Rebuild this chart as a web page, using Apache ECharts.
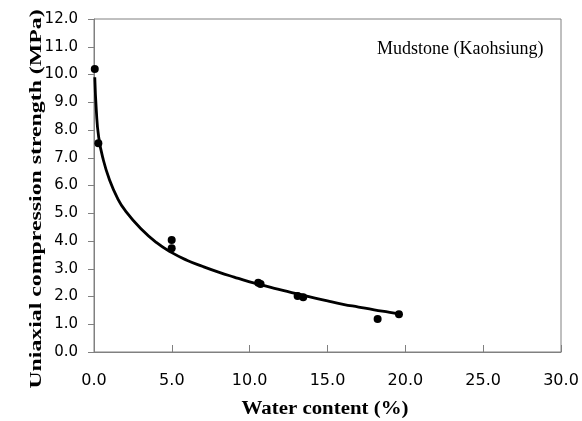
<!DOCTYPE html>
<html>
<head>
<meta charset="utf-8">
<script src="https://cdn.jsdelivr.net/npm/echarts@6/dist/echarts.min.js"></script>
<style>html,body{margin:0;padding:0;background:#fff;}#c{width:582px;height:421px;}</style>
</head>
<body>
<div id="c"></div>
<script>
// Measured data points (water content %, UCS MPa)
const pointX = [0.05, 0.28, 4.99, 4.99, 10.55, 10.7, 13.08, 13.44, 18.22, 19.59];
const pointY = [10.2, 7.52, 4.04, 3.74, 2.50, 2.45, 2.02, 1.97, 1.19, 1.36];
// Trend curve
const curveX = [0.05, 0.15, 0.3, 0.6, 1.0, 1.5, 2.0, 3.0, 4.0, 5.0, 6.0, 7.0, 8.0, 9.0, 10.0, 11.0, 12.0, 13.0, 14.0, 15.0, 16.0, 17.0, 18.0, 19.0, 19.6];
const curveY = [9.9, 8.7, 7.75, 6.92, 6.2, 5.55, 5.1, 4.45, 3.95, 3.58, 3.3, 3.08, 2.88, 2.7, 2.53, 2.38, 2.24, 2.1, 1.97, 1.84, 1.72, 1.62, 1.52, 1.43, 1.37];
const xTicks = [0, 30, 5];
const yTicks = [0, 12, 1];
const xTitle = 'Water content (%)';
const yTitle = 'Uniaxial compression strength (MPa)';
const note = 'Mudstone (Kaohsiung)';

const chart = echarts.init(document.getElementById('c'), null, {renderer: 'canvas'});
const axisGrey = '#808080';
chart.setOption({
  animation: false,
  backgroundColor: '#fff',
  grid: {left: 94, right: 21, top: 19, bottom: 69, show: true, borderColor: axisGrey, borderWidth: 1, backgroundColor: 'transparent'},
  xAxis: {
    type: 'value', min: xTicks[0], max: xTicks[1], interval: xTicks[2],
    axisLine: {show: true, lineStyle: {color: axisGrey, width: 1}},
    axisTick: {show: true, inside: true, length: 7, lineStyle: {color: axisGrey}},
    splitLine: {show: false},
    axisLabel: {margin: 21, color: '#000', fontFamily: 'DejaVu Sans', fontSize: 16, formatter: v => v.toFixed(1)}
  },
  yAxis: {
    type: 'value', min: yTicks[0], max: yTicks[1], interval: yTicks[2],
    axisLine: {show: true, lineStyle: {color: axisGrey, width: 1}},
    axisTick: {show: true, inside: false, length: 6, lineStyle: {color: axisGrey}},
    splitLine: {show: false},
    axisLabel: {margin: 16, color: '#000', fontFamily: 'DejaVu Sans', fontSize: 15, formatter: v => v.toFixed(1)}
  },
  graphic: [
    {type: 'text', x: 325, y: 409, scaleX: 1.16, z: 10,
      style: {text: xTitle, font: 'bold 18px "Liberation Serif"', fill: '#000', textAlign: 'center', textVerticalAlign: 'middle'}},
    {type: 'text', x: 37, y: 199, rotation: Math.PI / 2, scaleX: 1.4, z: 10,
      style: {text: yTitle, font: 'bold 17px "Liberation Serif"', fill: '#000', textAlign: 'center', textVerticalAlign: 'middle'}},
    {type: 'text', x: 377, y: 49, z: 10,
      style: {text: note, font: '18px "Liberation Serif"', fill: '#000', textAlign: 'left', textVerticalAlign: 'middle'}}
  ],
  series: [
    {type: 'line', data: curveX.map((x, i) => [x, curveY[i]]), smooth: true, symbol: 'none',
      lineStyle: {color: '#000', width: 2.8}, z: 2},
    {type: 'scatter', data: pointX.map((x, i) => [x, pointY[i]]), symbol: 'circle', symbolSize: 8,
      itemStyle: {color: '#000', opacity: 1}, z: 3}
  ]
});
</script>
</body>
</html>
